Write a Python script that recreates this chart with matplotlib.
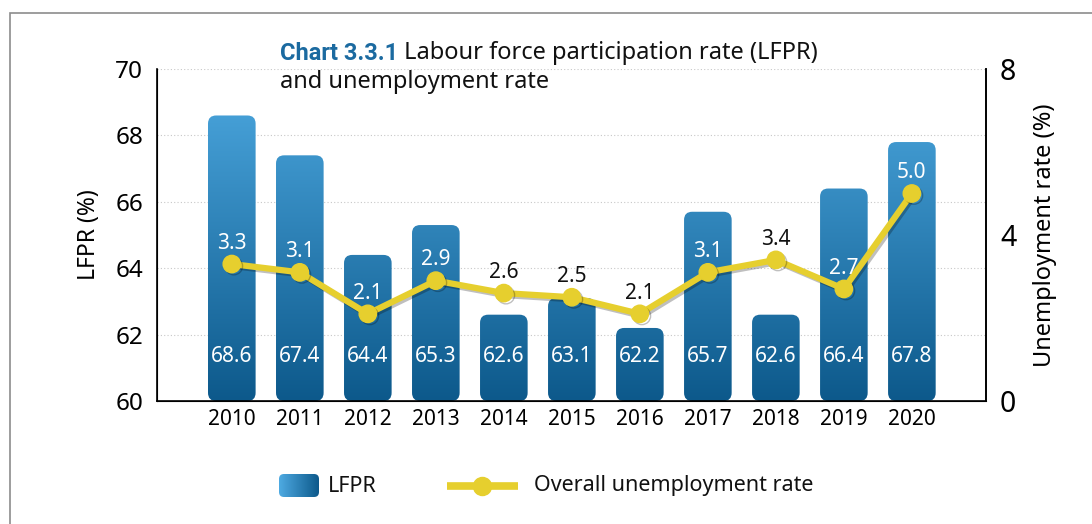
import numpy as np
import matplotlib
matplotlib.use("Agg")
import matplotlib.pyplot as plt
from matplotlib.patches import FancyBboxPatch, Rectangle
from matplotlib.colors import LinearSegmentedColormap
import matplotlib.patheffects as pe

plt.rcParams['font.family'] = ['Noto Sans', 'DejaVu Sans']

years = ['2010', '2011', '2012', '2013', '2014', '2015', '2016', '2017', '2018', '2019', '2020']
lfpr = [68.6, 67.4, 64.4, 65.3, 62.6, 63.1, 62.2, 65.7, 62.6, 66.4, 67.8]
unemp = [3.3, 3.1, 2.1, 2.9, 2.6, 2.5, 2.1, 3.1, 3.4, 2.7, 5.0]

blue_dark = '#0d598b'
blue_light = '#4eaae2'
yellow = '#e6cf2e'
cmap = LinearSegmentedColormap.from_list('lfpr', [blue_dark, blue_light])

fig = plt.figure(figsize=(10.92, 5.24), dpi=100)

# outer frame
fig.patches.append(Rectangle((10 / 1092, -0.5), 2, 1.5 - 13 / 524, transform=fig.transFigure,
                             fill=False, edgecolor='#8c8c8c', linewidth=1.2))

ax = fig.add_axes([157 / 1092, 123 / 524, 829 / 1092, 332 / 524])
x = np.arange(len(years))
xlim = (-1.10, 11.09)
ax.set_xlim(*xlim)
ax.set_ylim(60, 70)
ax.set_yticks([60, 62, 64, 66, 68, 70])
ax.yaxis.grid(True, linestyle=(0, (1, 2)), color='#c8c8c8', linewidth=0.8)
ax.set_axisbelow(True)
ax.spines['top'].set_visible(False)
for s in ['left', 'bottom', 'right']:
    ax.spines[s].set_linewidth(1.2)
ax.tick_params(axis='y', length=0, pad=10, labelsize=17.5)
ax.tick_params(axis='x', length=0, pad=6, labelsize=15)
ax.set_xticks(x)
ax.set_xticklabels(years)
ax.set_ylabel('LFPR (%)', fontsize=16.5, labelpad=10)

# gradient bars with rounded corners
grad = np.linspace(0, 1, 256).reshape(-1, 1)
width = 0.70
for i, v in enumerate(lfpr):
    box = FancyBboxPatch((i - width / 2, 60), width, v - 60,
                         boxstyle='round,pad=0,rounding_size=0.12', mutation_aspect=2.05,
                         facecolor='none', edgecolor='none', zorder=2)
    ax.add_patch(box)
    im = ax.imshow(grad, cmap=cmap, origin='lower', aspect='auto',
                   extent=(xlim[0], xlim[1], 60, 70), zorder=2)
    im.set_clip_path(box)
    ax.text(i, 61.35, f'{v:.1f}', color='white', ha='center', va='center', fontsize=15, zorder=3)
ax.set_xlim(*xlim)
ax.set_ylim(60, 70)

ax2 = ax.twinx()
ax2.set_ylim(0, 8)
ax2.set_yticks([0, 4, 8])
ax2.tick_params(axis='y', length=0, pad=10, labelsize=20.5)
ax2.spines['top'].set_visible(False)
ax2.spines['right'].set_linewidth(1.2)
ax2.set_ylabel('Unemployment rate (%)', fontsize=17, labelpad=12)
ax2.plot(x, unemp, color=yellow, linewidth=4.5, marker='o', markersize=12.5, zorder=4,
         path_effects=[pe.SimpleLineShadow(offset=(1.5, -1.5), alpha=0.25), pe.Normal()])
for i, u in enumerate(unemp):
    inside = 60 + u * 10 / 8 + 0.6 < lfpr[i]
    ax2.annotate(f'{u:.1f}', (i, u), xytext=(0, 15), textcoords='offset points',
                 ha='center', va='center', fontsize=15,
                 color='white' if inside else '#111111', zorder=5)

# title
t1 = fig.text(280 / 1092, 1 - 60 / 524, 'Chart 3.3.1', fontsize=17, fontweight='bold',
              family='Roboto', color='#1b6aa0', va='baseline', ha='left')
ax.annotate(' Labour force participation rate (LFPR)', xy=(1, 0), xycoords=t1,
            fontsize=17, color='#111111', va='bottom', ha='left', annotation_clip=False)
fig.text(280 / 1092, 1 - 88 / 524, 'and unemployment rate', fontsize=17, color='#111111',
         va='baseline', ha='left')

# legend
lg = fig.add_axes([0, 0, 1, 1], zorder=-1)
lg.set_xlim(0, 1092)
lg.set_ylim(524, 0)
lg.axis('off')
legbox = FancyBboxPatch((279, 474), 40, 23, boxstyle='round,pad=0,rounding_size=5',
                        facecolor='none', edgecolor='none')
lg.add_patch(legbox)
hg = lg.imshow(np.linspace(0, 1, 256).reshape(1, -1)[:, ::-1], cmap=cmap, aspect='auto',
               extent=(279, 319, 497, 474))
hg.set_clip_path(legbox)
lg.text(328, 486, 'LFPR', fontsize=15.5, va='center', ha='left', color='#111111')
lg.plot([447, 518], [486, 486], color=yellow, linewidth=5.5, solid_capstyle='butt')
lg.plot([482], [486], marker='o', markersize=13, color=yellow)
lg.text(534, 486, 'Overall unemployment rate', fontsize=15.5, va='center', ha='left', color='#111111')
lg.set_xlim(0, 1092)
lg.set_ylim(524, 0)

fig.savefig('out.png', dpi=100)
